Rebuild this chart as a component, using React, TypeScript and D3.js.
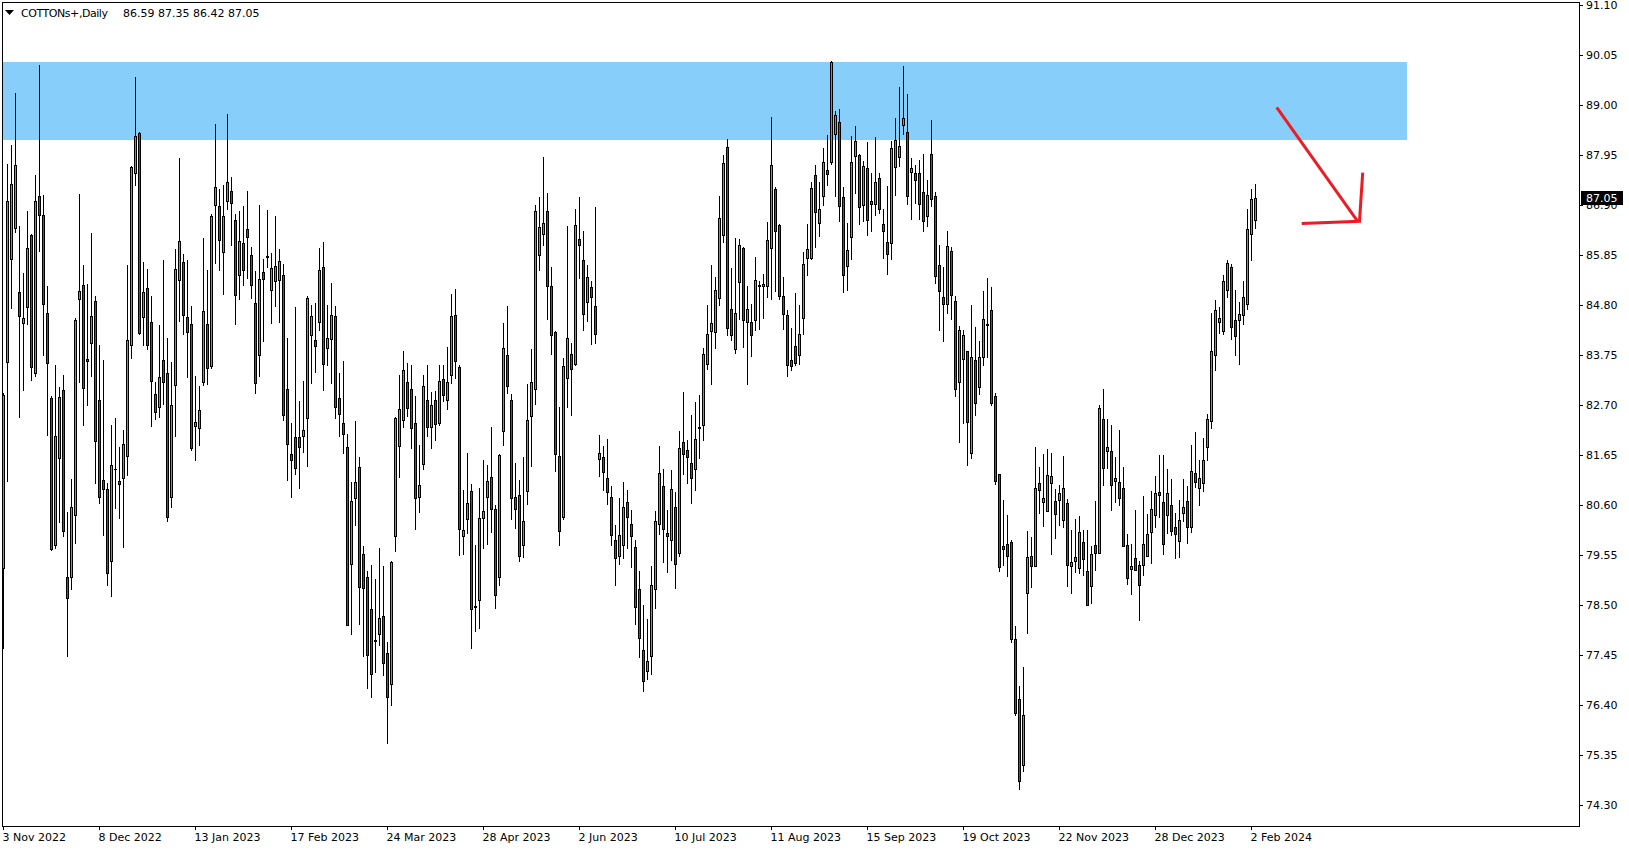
import React from 'react';
import * as d3 from 'd3';

// ---- Daily OHLC, COTTONs+ (bar 0 = 3 Nov 2022) ----
const OPEN = [
  79.27, 83.60, 85.76, 86.41, 85.07, 84.43, 84.76, 86.27, 83.37, 87.08,
  86.70, 84.63, 82.84, 79.77, 81.59, 83.02, 79.08, 79.09, 80.39, 84.92,
  85.21, 83.66, 84.00, 84.89, 82.80, 81.12, 80.93, 79.43, 81.35, 81.10,
  81.16, 81.63, 83.96, 87.58, 88.42, 84.54, 85.15, 84.45, 82.94, 82.66,
  83.64, 83.37, 80.76, 83.13, 85.33, 85.70, 84.54, 84.41, 82.25, 82.22,
  83.19, 84.40, 83.51, 86.90, 86.88, 85.91, 86.98, 87.19, 86.58, 85.43,
  86.11, 86.39, 85.84, 84.84, 83.75, 85.50, 85.81, 85.11, 85.30, 85.32,
  85.42, 83.04, 81.68, 82.02, 82.02, 82.04, 82.42, 84.18, 84.06, 84.44,
  85.59, 83.89, 84.08, 84.56, 82.84, 82.32, 81.81, 79.37, 80.74, 81.40,
  79.58, 79.08, 78.41, 77.75, 77.89, 78.26, 77.50, 76.85, 79.95, 81.84,
  82.39, 83.19, 83.03, 82.32, 80.77, 81.46, 82.81, 82.23, 82.80, 82.32,
  83.25, 82.80, 83.32, 84.60, 83.50, 79.95, 80.30, 80.90, 78.46, 78.61,
  80.32, 80.77, 81.18, 80.52, 79.08, 82.15, 83.74, 82.80, 80.77, 80.81,
  79.75, 80.89, 82.46, 83.04, 85.84, 86.29, 86.78, 85.19, 84.24, 81.63,
  80.34, 83.26, 83.78, 83.56, 86.19, 85.75, 84.86, 85.17, 84.78, 81.57,
  81.60, 81.17, 80.77, 79.87, 79.52, 79.75, 80.66, 80.21, 79.72, 78.84,
  77.56, 77.11, 77.42, 78.83, 80.21, 80.99, 80.01, 79.87, 80.55, 79.60,
  81.92, 81.75, 81.48, 81.35, 82.22, 82.27, 83.56, 84.26, 84.24, 84.94,
  86.27, 88.11, 84.71, 83.87, 85.28, 85.99, 84.44, 84.44, 84.48, 85.20,
  85.19, 85.19, 85.99, 87.23, 86.47, 84.98, 84.58, 83.64, 83.93, 83.76,
  84.52, 85.79, 85.78, 87.54, 86.53, 87.08, 87.64, 87.80, 88.40, 88.64,
  87.06, 85.61, 86.23, 87.92, 87.94, 86.90, 87.67, 86.99, 86.93, 87.47,
  86.51, 86.12, 86.11, 87.70, 87.91, 88.58, 88.44, 87.59, 87.57, 87.57,
  87.17, 86.67, 87.98, 87.09, 85.63, 84.96, 84.82, 85.93, 84.89, 83.18,
  83.66, 83.84, 81.70, 83.64, 83.07, 83.71, 84.39, 84.69, 82.88, 81.25,
  79.73, 79.79, 79.83, 77.78, 76.53, 75.15, 78.76, 79.52, 79.31, 81.07,
  80.67, 80.48, 81.06, 80.69, 80.70, 80.29, 80.65, 79.31, 79.43, 79.27,
  79.82, 79.22, 78.90, 79.75, 79.60, 82.40, 81.73, 81.73, 81.10, 81.08,
  80.96, 79.75, 79.25, 79.49, 79.33, 79.33, 79.53, 80.04, 80.40, 80.87,
  80.66, 80.38, 80.60, 80.13, 79.85, 80.44, 80.68, 80.14, 81.27, 80.95,
  81.07, 81.81, 82.36, 83.76, 84.45, 84.25, 85.12, 85.60, 84.48, 84.48,
  84.58, 84.83, 86.30, 86.59,
];
const HIGH = [
  82.95, 87.76, 88.17, 89.25, 86.46, 85.47, 86.77, 86.29, 87.53, 89.83,
  87.11, 85.19, 82.88, 83.55, 83.08, 83.33, 80.45, 81.14, 84.53, 87.13,
  85.65, 85.25, 86.31, 84.98, 83.96, 83.64, 81.06, 82.29, 82.43, 81.81,
  82.17, 85.64, 87.72, 89.58, 88.43, 85.70, 85.56, 84.98, 83.19, 84.37,
  85.74, 84.10, 83.60, 85.97, 87.88, 85.88, 85.74, 84.78, 83.31, 83.09,
  86.21, 85.53, 86.72, 88.60, 87.23, 87.31, 88.81, 87.48, 86.72, 86.78,
  86.88, 87.19, 86.02, 85.52, 86.90, 85.76, 86.80, 85.89, 86.67, 85.98,
  85.67, 84.10, 82.32, 84.76, 82.78, 83.20, 84.98, 84.79, 84.84, 85.99,
  86.13, 84.79, 85.26, 84.77, 83.37, 83.63, 82.09, 81.09, 82.37, 81.60,
  79.74, 79.21, 79.34, 79.05, 79.69, 79.31, 77.72, 79.43, 82.44, 83.33,
  83.83, 83.59, 83.54, 82.89, 81.86, 83.33, 83.54, 82.98, 82.99, 83.55,
  83.54, 83.92, 85.04, 85.14, 83.53, 80.92, 81.70, 81.05, 79.76, 80.96,
  81.55, 81.43, 82.23, 80.60, 81.67, 84.42, 84.78, 82.93, 81.48, 81.13,
  81.60, 83.14, 83.88, 86.91, 87.07, 87.91, 87.15, 85.59, 84.26, 82.65,
  83.68, 86.45, 84.00, 86.81, 87.07, 86.35, 85.64, 85.31, 86.85, 82.07,
  81.83, 81.99, 80.99, 80.17, 80.75, 81.09, 80.91, 80.50, 79.86, 79.21,
  78.50, 78.20, 79.32, 80.47, 81.84, 81.35, 80.49, 81.33, 80.87, 82.16,
  82.98, 81.97, 82.50, 82.77, 82.90, 83.90, 84.80, 85.65, 85.39, 87.09,
  87.95, 88.28, 85.57, 86.21, 86.19, 86.01, 85.20, 84.83, 85.81, 85.31,
  85.45, 86.54, 88.75, 87.28, 86.50, 85.39, 84.70, 84.32, 85.05, 84.80,
  85.91, 86.50, 87.39, 87.74, 87.39, 88.09, 88.37, 89.92, 88.88, 88.91,
  87.28, 86.53, 88.35, 88.56, 87.97, 87.82, 88.22, 87.57, 88.32, 87.57,
  86.81, 87.29, 88.25, 88.73, 89.38, 89.82, 89.23, 87.89, 87.74, 87.85,
  87.97, 87.42, 88.68, 87.18, 86.06, 85.59, 86.36, 86.01, 84.99, 84.35,
  84.28, 83.84, 84.79, 84.34, 84.05, 85.09, 85.36, 85.17, 82.96, 81.25,
  80.70, 80.39, 79.87, 78.05, 76.80, 77.19, 80.05, 79.93, 81.82, 81.40,
  81.68, 81.78, 81.69, 80.94, 81.02, 81.63, 80.73, 80.08, 80.30, 80.37,
  80.08, 80.08, 79.73, 80.69, 82.70, 83.04, 82.40, 82.28, 81.61, 82.18,
  81.40, 80.00, 79.79, 80.50, 79.43, 80.79, 80.42, 80.90, 81.21, 81.65,
  81.65, 81.36, 81.15, 80.44, 80.70, 81.15, 81.00, 81.86, 82.14, 81.55,
  82.00, 82.51, 84.64, 84.91, 84.75, 85.42, 85.75, 85.66, 85.12, 84.86,
  85.31, 86.81, 87.24, 87.35,
];
const LOW = [
  77.59, 81.10, 84.74, 86.33, 82.45, 83.02, 84.41, 83.23, 83.31, 85.94,
  83.76, 82.08, 79.66, 79.69, 80.25, 79.94, 77.43, 78.84, 79.80, 83.19,
  82.29, 82.70, 83.31, 81.06, 80.65, 79.98, 78.92, 78.69, 80.53, 80.33,
  79.72, 81.24, 83.69, 87.31, 84.19, 83.96, 83.88, 82.26, 82.41, 82.45,
  82.72, 80.26, 80.56, 82.04, 84.47, 84.19, 83.29, 81.76, 81.55, 81.86,
  83.11, 83.15, 83.47, 85.68, 85.54, 85.03, 86.82, 86.05, 84.40, 84.92,
  85.21, 85.36, 84.94, 82.96, 83.30, 84.05, 85.59, 84.42, 84.77, 84.44,
  82.39, 81.12, 80.77, 81.25, 80.96, 81.72, 81.41, 83.17, 83.40, 84.27,
  83.01, 83.54, 83.17, 82.43, 82.04, 81.70, 78.07, 77.90, 80.17, 78.10,
  77.42, 76.75, 76.56, 77.10, 77.66, 77.02, 75.61, 76.41, 79.63, 81.18,
  82.24, 82.46, 81.79, 80.10, 80.45, 81.35, 82.04, 81.80, 81.96, 82.28,
  82.78, 82.61, 83.17, 83.27, 79.54, 79.58, 80.01, 77.60, 77.96, 78.01,
  79.69, 79.78, 80.04, 78.44, 78.91, 81.85, 82.96, 80.31, 80.11, 79.42,
  79.50, 80.62, 81.41, 82.73, 85.53, 86.05, 84.51, 83.78, 81.31, 79.75,
  80.31, 82.66, 82.50, 83.54, 85.37, 84.28, 84.46, 83.98, 84.00, 81.21,
  80.91, 80.62, 79.75, 78.93, 79.36, 79.48, 79.69, 79.30, 78.10, 77.40,
  76.69, 76.95, 77.05, 78.44, 79.99, 79.41, 79.20, 79.44, 78.85, 79.52,
  81.25, 81.07, 80.65, 80.91, 81.59, 81.97, 83.46, 83.14, 83.90, 84.79,
  86.13, 84.18, 84.06, 83.80, 84.51, 83.92, 83.14, 83.72, 84.28, 84.30,
  84.53, 84.96, 84.92, 85.10, 84.92, 84.30, 83.31, 83.43, 83.54, 83.56,
  84.20, 85.44, 85.77, 86.02, 86.25, 86.90, 87.32, 87.77, 87.08, 86.56,
  85.07, 85.12, 85.77, 87.15, 86.51, 86.56, 86.28, 86.36, 86.70, 86.73,
  85.79, 85.46, 85.76, 87.12, 87.71, 88.40, 86.93, 86.60, 86.95, 86.61,
  86.36, 86.45, 86.88, 85.27, 84.28, 84.05, 84.64, 84.50, 82.89, 81.92,
  82.32, 81.45, 81.58, 82.49, 82.93, 83.53, 83.71, 82.69, 81.05, 79.22,
  79.35, 79.10, 77.73, 76.19, 74.64, 75.01, 77.91, 78.88, 79.31, 80.44,
  80.16, 80.48, 79.57, 79.91, 80.19, 80.13, 78.90, 78.76, 79.20, 79.17,
  79.14, 78.50, 78.55, 79.24, 79.60, 81.02, 81.37, 80.50, 80.66, 80.60,
  79.73, 78.95, 78.74, 79.24, 78.19, 79.14, 79.53, 79.39, 80.14, 80.34,
  79.57, 80.02, 79.98, 79.48, 79.50, 80.27, 79.81, 80.04, 80.98, 80.59,
  80.90, 81.55, 82.22, 83.43, 84.22, 84.20, 84.97, 84.08, 83.76, 83.57,
  84.41, 84.72, 85.75, 86.42,
];
const CLOSE = [
  82.90, 86.99, 87.35, 87.75, 84.56, 84.53, 85.99, 83.49, 86.98, 86.68,
  84.82, 83.58, 79.67, 82.04, 82.86, 80.05, 78.64, 80.55, 84.49, 85.09,
  83.06, 83.63, 84.56, 81.94, 80.76, 80.93, 79.17, 81.43, 81.36, 81.04,
  81.88, 84.06, 87.70, 88.35, 84.21, 85.07, 83.96, 83.21, 82.55, 83.29,
  83.19, 80.34, 82.70, 85.56, 86.15, 84.60, 84.23, 81.80, 82.35, 82.59,
  84.67, 83.47, 86.66, 87.27, 86.17, 86.67, 87.39, 86.95, 85.01, 86.15,
  85.54, 86.23, 85.21, 83.17, 85.34, 85.35, 85.82, 85.57, 85.61, 85.73,
  82.48, 81.89, 81.55, 81.37, 81.81, 82.18, 84.95, 84.56, 83.93, 85.54,
  83.56, 84.10, 84.59, 82.65, 82.52, 82.09, 78.08, 80.68, 81.08, 78.87,
  78.85, 77.45, 77.06, 77.76, 78.23, 77.28, 76.56, 79.40, 82.42, 82.62,
  83.44, 82.63, 82.21, 80.74, 81.01, 83.09, 82.23, 82.69, 82.30, 83.21,
  82.91, 83.19, 84.56, 83.62, 80.10, 80.08, 80.65, 78.41, 78.47, 80.32,
  80.48, 81.11, 80.51, 78.72, 81.64, 83.90, 83.09, 80.74, 80.51, 79.53,
  80.26, 82.38, 83.18, 86.78, 86.43, 86.53, 85.19, 84.16, 81.68, 80.05,
  83.52, 84.10, 83.46, 86.47, 86.07, 84.62, 85.39, 84.96, 84.20, 81.69,
  81.29, 80.87, 79.98, 79.48, 79.98, 80.55, 80.35, 79.95, 78.46, 77.80,
  76.91, 77.32, 78.91, 80.27, 81.27, 80.09, 79.95, 80.93, 79.37, 81.79,
  81.67, 81.61, 81.17, 81.99, 82.23, 83.78, 84.20, 84.42, 85.11, 86.62,
  87.78, 84.31, 84.16, 84.64, 86.05, 84.48, 84.71, 84.16, 85.33, 85.21,
  85.25, 86.16, 87.75, 86.35, 84.98, 84.62, 83.53, 83.51, 83.58, 84.20,
  85.67, 85.97, 87.25, 86.76, 86.81, 87.80, 87.56, 89.90, 88.78, 86.88,
  85.44, 85.96, 87.81, 88.24, 86.85, 87.72, 86.58, 86.92, 87.39, 86.82,
  86.35, 85.87, 88.09, 88.27, 88.14, 88.73, 87.08, 87.67, 87.42, 86.93,
  86.56, 87.12, 87.03, 85.41, 85.10, 84.82, 86.03, 85.02, 83.03, 84.28,
  84.18, 82.34, 83.70, 82.74, 83.70, 84.50, 84.40, 82.74, 81.11, 79.30,
  79.68, 79.52, 77.78, 76.24, 74.80, 76.19, 79.51, 79.31, 80.96, 80.91,
  80.75, 81.22, 81.20, 80.42, 80.85, 80.95, 79.33, 79.40, 79.51, 80.03,
  79.46, 78.50, 79.58, 79.60, 82.63, 81.38, 81.82, 81.01, 81.17, 80.75,
  79.73, 79.06, 79.32, 79.24, 78.93, 79.78, 79.99, 80.51, 80.86, 80.81,
  79.79, 80.86, 80.06, 80.00, 80.29, 80.55, 80.13, 81.31, 81.09, 81.17,
  81.54, 82.40, 83.83, 84.69, 84.52, 85.31, 85.68, 84.33, 84.15, 84.62,
  84.97, 86.40, 87.02, 87.05,
];

// ---- axis labels ----
const PRICE_TICKS = [
  91.10, 90.05, 89.00, 87.95, 86.90, 85.85, 84.80, 83.75, 82.70,
  81.65, 80.60, 79.55, 78.50, 77.45, 76.40, 75.35, 74.30,
];
const DATE_LABELS = [
  '3 Nov 2022', '8 Dec 2022', '13 Jan 2023', '17 Feb 2023', '24 Mar 2023',
  '28 Apr 2023', '2 Jun 2023', '10 Jul 2023', '11 Aug 2023', '15 Sep 2023',
  '19 Oct 2023', '22 Nov 2023', '28 Dec 2023', '2 Feb 2024',
];
const DATE_LABEL_STEP = 24; // bars between date labels
const SYMBOL_TITLE = 'COTTONs+,Daily';

// ---- annotations (bar index, price) ----
const ZONE_PRICES = [88.265, 89.903];
const ZONE_END_INDEX = 350.8;
const ARROW_DIAGONAL = [[318.3, 88.95], [338.5, 86.56]];
const ARROW_HOOK = [[324.55, 86.51], [339.0, 86.56], [339.8, 87.58]];

const W = 1629;
const H = 850;
const FONT = '"DejaVu Sans", Verdana, sans-serif';
const UP = '#22D622';
const DOWN = '#E01B1B';

export default function App() {
  const x = d3.scaleLinear().domain([0, 1]).range([3.5, 7.5]);
  const y = d3.scaleLinear().domain([74.30, 91.10]).range([805, 5]);

  const plotLeft = 2.5;
  const plotRight = 1579.5;
  const plotTop = 2.5;
  const plotBottom = 826.5;

  const line = d3
    .line<number[]>()
    .x((d) => x(d[0]))
    .y((d) => y(d[1]));

  const candles = OPEN.map((o, i) => {
    const c = CLOSE[i];
    const hi = HIGH[i];
    const lo = LOW[i];
    const cx = x(i);
    const left = Math.round(cx - 1.5);
    const top = Math.round(y(Math.max(o, c)));
    const bot = Math.round(y(Math.min(o, c)));
    const wTop = Math.round(y(hi));
    const wBot = Math.round(y(lo));
    const up = c >= o;
    const h = Math.max(1, bot - top + 1);
    return (
      <g key={i}>
        <rect x={left + 1} y={wTop} width={1} height={wBot - wTop + 1} fill="#000" />
        <rect x={left} y={top} width={3} height={h} fill="#000" />
        {h > 2 && (
          <rect x={left + 1} y={top + 1} width={1} height={h - 2} fill={up ? UP : DOWN} />
        )}
      </g>
    );
  });

  const lastClose = CLOSE[CLOSE.length - 1];
  const lastY = Math.round(y(lastClose));
  const ohlcText = [OPEN, HIGH, LOW, CLOSE].map((a) => a[a.length - 1].toFixed(2)).join(' ');

  return (
    <svg
      width={W}
      height={H}
      style={{ position: 'absolute', left: 0, top: 0, background: '#fff' }}
      shapeRendering="crispEdges"
    >
      <rect x={0} y={0} width={W} height={H} fill="#fff" />
      {/* supply zone */}
      <rect
        x={plotLeft}
        y={y(ZONE_PRICES[1])}
        width={x(ZONE_END_INDEX) - plotLeft}
        height={y(ZONE_PRICES[0]) - y(ZONE_PRICES[1])}
        fill="#87CEFA"
      />
      {candles}
      {/* arrow */}
      <g shapeRendering="geometricPrecision" fill="none" stroke="#ED1C24" strokeWidth={3} strokeLinecap="butt" strokeLinejoin="miter">
        <path d={line(ARROW_DIAGONAL) || ''} />
        <path d={line(ARROW_HOOK) || ''} />
      </g>
      {/* frame */}
      <rect
        x={plotLeft}
        y={plotTop}
        width={plotRight - plotLeft}
        height={plotBottom - plotTop}
        fill="none"
        stroke="#000"
        strokeWidth={1}
      />
      {/* header */}
      <polygon points="5,10 14,10 9.5,15" fill="#000" shapeRendering="geometricPrecision" />
      <text x={21} y={17} fontFamily={FONT} fontSize={11} fill="#000" textLength={87} lengthAdjust="spacing">
        {SYMBOL_TITLE}
      </text>
      <text x={123} y={17} fontFamily={FONT} fontSize={11} fill="#000">
        {ohlcText}
      </text>
      {/* price axis */}
      {PRICE_TICKS.map((p) => {
        const ty = Math.round(y(p));
        return (
          <g key={p}>
            <line x1={1580} x2={1583} y1={ty + 0.5} y2={ty + 0.5} stroke="#000" />
            <text x={1586} y={ty + 4} fontFamily={FONT} fontSize={11} fill="#000">
              {p.toFixed(2)}
            </text>
          </g>
        );
      })}
      <rect x={1581} y={lastY - 7} width={42} height={14} fill="#000" />
      <text x={1586} y={lastY + 4} fontFamily={FONT} fontSize={11} fill="#fff">
        {lastClose.toFixed(2)}
      </text>
      {/* date axis */}
      {DATE_LABELS.map((d, k) => {
        const tx = x(k * DATE_LABEL_STEP);
        return (
          <g key={d}>
            <line x1={tx} x2={tx} y1={826} y2={830} stroke="#000" />
            <text x={tx - 1} y={841} fontFamily={FONT} fontSize={11} fill="#000">
              {d}
            </text>
          </g>
        );
      })}
    </svg>
  );
}
